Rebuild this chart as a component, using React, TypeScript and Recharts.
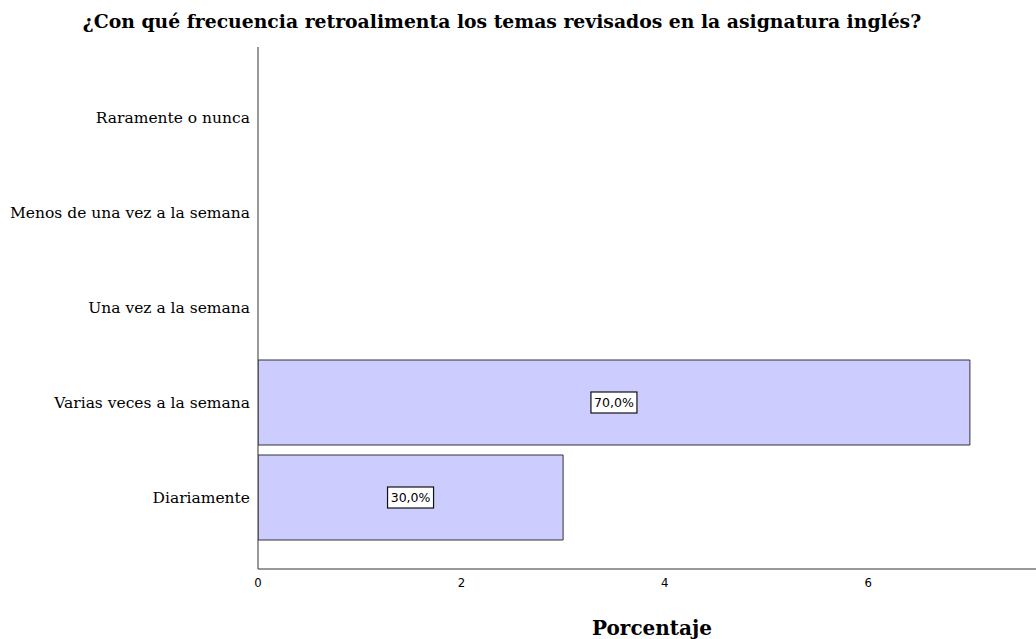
import { BarChart, Bar, XAxis, YAxis, LabelList } from "recharts";

const categories = [
	"Raramente o nunca",
	"Menos de una vez a la semana",
	"Una vez a la semana",
	"Varias veces a la semana",
	"Diariamente",
];
const counts = [0, 0, 0, 7, 3];
const pctLabels = ["", "", "", "70,0%", "30,0%"];
const xTicks = [0, 2, 4, 6];

const TITLE = "¿Con qué frecuencia retroalimenta los temas revisados en la asignatura inglés?";

const data = categories.map((name, i) => ({ name, value: counts[i] || null, pct: pctLabels[i] }));

function BoxLabel(props: any) {
	const { x, y, width, height, value } = props;
	if (!value) return null;
	const cx = x + width / 2;
	const cy = y + height / 2;
	const w = 46;
	const h = 21;
	return (
		<g>
			<rect x={cx - w / 2} y={cy - h / 2} width={w} height={h} fill="#ffffff" stroke="#111" strokeWidth={1.2} />
			<text x={cx} y={cy + 4.5} textAnchor="middle" fontFamily="DejaVu Sans" fontSize={12.5} fill="#000">
				{value}
			</text>
		</g>
	);
}

function XTick(props: any) {
	const { x, y, payload } = props;
	return (
		<text x={x} y={y + 9} textAnchor="middle" fontFamily="DejaVu Sans Condensed, DejaVu Sans" fontSize={13} fill="#000">
			{payload.value}
		</text>
	);
}

export default function App() {
	return (
		<div style={{ position: "absolute", left: 0, top: 0, width: 1036, height: 639, background: "#fff" }}>
			<div style={{
				position: "absolute", left: 0, top: 10, width: 1004, textAlign: "center",
				fontFamily: "DejaVu Serif", fontWeight: "bold", fontSize: 18.8, color: "#000", lineHeight: "22px",
				whiteSpace: "nowrap",
			}}>
				{TITLE}
			</div>
			<BarChart width={1036}
			          height={639}
			          data={data}
			          layout="vertical"
			          barSize={85}
			          margin={{ top: 47, right: 0, left: 0, bottom: 0 }}>
				<XAxis type="number"
				       domain={[0, 7.65]}
				       ticks={xTicks}
				       allowDataOverflow
				       height={70}
				       stroke="#333"
				       tickLine={false}
				       tickSize={6}
				       tickMargin={3}
				       tick={<XTick />}
				       label={{
					       value: "Porcentaje",
					       position: "insideBottom",
					       offset: 4,
					       dx: 5,
					       style: { fontFamily: "DejaVu Serif", fontWeight: "bold", fontSize: 20, fill: "#000" },
				       }} />
				<YAxis type="category"
				       dataKey="name"
				       width={258}
				       stroke="#333"
				       tickLine={false}
				       tickSize={0}
				       tickMargin={8}
				       interval={0}
				       padding={{ top: 23, bottom: 24 }}
				       tick={{ fontSize: 15.5, fill: "#000", fontFamily: "DejaVu Serif" }} />
				<Bar dataKey="value"
				     fill="#ccccff"
				     stroke="#333"
				     strokeWidth={1}
				     isAnimationActive={false}>
					<LabelList dataKey="pct" content={BoxLabel} />
				</Bar>
			</BarChart>
		</div>
	);
}
